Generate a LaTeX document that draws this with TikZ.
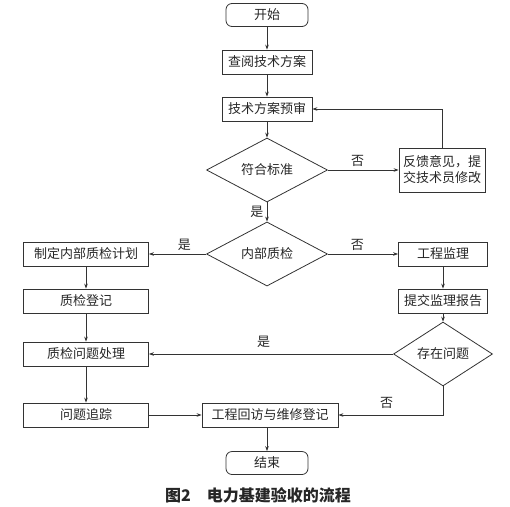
\documentclass[tikz,border=0pt]{standalone}
\usepackage{fontspec}
\setmainfont{Noto Sans CJK SC}
\usetikzlibrary{shapes.geometric,arrows.meta}

\begin{document}
\begin{tikzpicture}[x=1pt,y=-1pt,
  line/.style={draw=black!80,line width=0.7pt},
  arr/.style={line,-{Stealth[length=5pt,width=3.6pt]}},
  box/.style={draw=black!80,line width=0.8pt,minimum height=24pt,inner sep=1pt,
    font=\fontsize{13}{16}\selectfont,text=black!85},
  term/.style={box,rounded corners=6pt,minimum width=82pt,minimum height=23pt},
  dec/.style={box,diamond,minimum width=121pt,minimum height=44pt,inner sep=0pt},
  lab/.style={font=\fontsize{13}{15}\selectfont,text=black!85}]
\useasboundingbox (0,0) rectangle (510,506);

\node[term] (start) at (267,15) {开始};
\node[box,minimum width=90pt] (check) at (267,62) {查阅技术方案};
\node[box,minimum width=90pt] (prereview) at (267,109) {技术方案预审};
\node[dec] (std) at (267,170) {符合标准};
\node[box,minimum width=86pt,minimum height=44pt,align=center,text width=82pt] (feedback) at (442,170) {反馈意见，提\\交技术员修改};
\node[dec,minimum height=53pt] (inner) at (267,254) {内部质检};
\node[box,minimum width=125pt] (plan) at (86,254) {制定内部质检计划};
\node[box,minimum width=89pt] (super) at (443,254) {工程监理};
\node[box,minimum width=125pt] (register) at (86,301) {质检登记};
\node[box,minimum width=89pt] (report) at (443,301) {提交监理报告};
\node[box,minimum width=125pt] (handle) at (86,354) {质检问题处理};
\node[dec,minimum width=99pt,minimum height=37pt] (exist) at (443,354) {存在问题};
\node[box,minimum width=125pt] (track) at (86,415) {问题追踪};
\node[box,minimum width=136pt] (visit) at (270,415) {工程回访与维修登记};
\node[term] (end) at (267,463) {结束};
\node[font=\bfseries\fontsize{16}{18}\selectfont,text=black!85] (caption) at (258,495) {图2\quad 电力基建验收的流程};

\draw[arr] (start) -- (check);
\draw[arr] (check) -- (prereview);
\draw[arr] (prereview) -- (std);
\draw[arr] (std.east) -- node[lab,above,pos=0.42] {否} (feedback.west);
\draw[arr] (feedback.north) |- (prereview.east);
\draw[arr] (std.south) -- node[lab,left,pos=0.5] {是} (inner.north);
\draw[arr] (inner.west) -- node[lab,above,pos=0.38] {是} (plan.east);
\draw[arr] (inner.east) -- node[lab,above,pos=0.42] {否} (super.west);
\draw[arr] (plan) -- (register);
\draw[arr] (register) -- (handle);
\draw[arr] (handle) -- (track);
\draw[arr] (super) -- (report);
\draw[arr] (report) -- (exist);
\draw[arr] (exist.west) -- node[lab,above,pos=0.53,yshift=3pt] {是} (handle.east);
\draw[arr] (exist.south) |- node[lab,above,pos=0.77,yshift=3pt] {否} (visit.east);
\draw[arr] (track) -- (visit);
\draw[arr] (visit.south -| end) -- (end);
\end{tikzpicture}
\end{document}
